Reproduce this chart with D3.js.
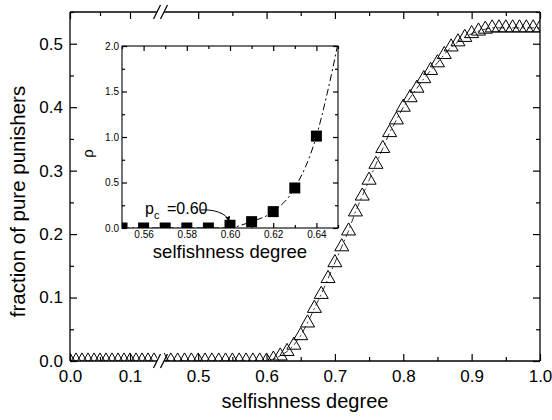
<!DOCTYPE html>
<html lang="en">
<head>
<meta charset="UTF-8">
<title>Fraction of pure punishers</title>
<script src="https://cdnjs.cloudflare.com/ajax/libs/d3/7.8.5/d3.min.js"></script>
<style>
    body { margin: 0; background: #fff; }
    svg { display: block; font-family: Arial, "Liberation Sans", sans-serif; }
    .frame { fill: none; stroke: #000; stroke-width: 1.3px; }
    .axis path { display: none; }
    .axis line { stroke: #000; stroke-width: 1.2px; }
    .axis text { fill: #000; }
    .fit { fill: none; stroke: #000; stroke-width: 1px; stroke-dasharray: 7,3,2,3; }
</style>
</head>
<body>
<svg width="552" height="420"></svg>
<script>
// main chart: fraction of pure punishers vs selfishness degree (axis broken between 0.145 and 0.45)
const selfishLow = [0.00,0.01,0.02,0.03,0.04,0.05,0.06,0.07,0.08,0.09,0.10,0.11,0.12,0.13,0.14];
const punishLow  = [0,0,0,0,0,0,0,0,0,0,0,0,0,0,0];
const selfishHigh = [0.45,0.46,0.47,0.48,0.49,0.50,0.51,0.52,0.53,0.54,0.55,0.56,0.57,0.58,0.59,0.60,
    0.61,0.62,0.63,0.64,0.65,0.66,0.67,0.68,0.69,0.70,0.71,0.72,0.73,0.74,0.75,0.76,0.77,0.78,0.79,0.80,
    0.81,0.82,0.83,0.84,0.85,0.86,0.87,0.88,0.89,0.90,0.91,0.92,0.93,0.94,0.95,0.96,0.97,0.98,0.99,1.00];
const punishHigh = [0,0,0,0,0,0,0,0,0,0,0,0,0,0,0,0,
    0.003,0.008,0.015,0.025,0.04,0.06,0.083,0.105,0.13,0.155,0.18,0.205,0.235,0.26,0.285,0.31,0.335,0.36,0.38,0.40,
    0.415,0.43,0.445,0.458,0.47,0.483,0.495,0.503,0.51,0.516,0.52,0.523,0.525,0.525,0.525,0.525,0.525,0.525,0.525,0.525];

const xTicksLow = [0.0, 0.1];
const xMinorLow = [0.05];
const xTicksHigh = [0.5, 0.6, 0.7, 0.8, 0.9, 1.0];
const xMinorHigh = [0.55, 0.65, 0.75, 0.85, 0.95];
const yTicks = [0.0, 0.1, 0.2, 0.3, 0.4, 0.5];
const yMinor = [0.05, 0.15, 0.25, 0.35, 0.45, 0.55];

// inset: rho vs selfishness degree
const insetX = [0.55,0.56,0.57,0.58,0.59,0.60,0.61,0.62,0.63,0.64];
const insetRho = [0,0,0,0,0,0.03,0.07,0.18,0.44,1.01];
const fitX = [0.55,0.60,0.605,0.61,0.62,0.63,0.64,0.645,0.65];
const fitRho = [0,0,0.03,0.07,0.18,0.44,1.01,1.48,2.03];
const insetXTicks = [0.56,0.58,0.60,0.62,0.64];
const insetXMinor = [0.55,0.57,0.59,0.61,0.63,0.65];
const insetYTicks = [0.0,0.5,1.0,1.5,2.0];
const insetYMinor = [0.25,0.75,1.25,1.75];

const svg = d3.select("svg");

const xLow = d3.scaleLinear().domain([0, 0.145]).range([70, 157]);
const xHigh = d3.scaleLinear().domain([0.45, 1.0]).range([164, 540]);
const y = d3.scaleLinear().domain([0, 0.55]).range([361, 12]);
const fmt1 = d3.format(".1f");

const [yBottom, yTop] = y.range();

// clip regions for each side of the break
const defs = svg.append("defs");
defs.append("clipPath").attr("id", "clipLow").append("rect")
    .attr("x", xLow.range()[0]).attr("y", yTop)
    .attr("width", xLow.range()[1] - xLow.range()[0]).attr("height", yBottom - yTop);
defs.append("clipPath").attr("id", "clipHigh").append("rect")
    .attr("x", xHigh.range()[0]).attr("y", yTop)
    .attr("width", xHigh.range()[1] - xHigh.range()[0]).attr("height", yBottom - yTop);

function drawTicks(scaleX, major, minor, showLabels) {
    const bottom = svg.append("g").attr("class", "axis").attr("transform", `translate(0,${yBottom})`)
        .style("font-size", "17px");
    bottom.call(d3.axisBottom(scaleX).tickValues(major).tickSize(-7).tickPadding(9)
        .tickFormat(showLabels ? fmt1 : ""));
    svg.append("g").attr("class", "axis").attr("transform", `translate(0,${yBottom})`)
        .call(d3.axisBottom(scaleX).tickValues(minor).tickSize(-4).tickFormat(""));
    svg.append("g").attr("class", "axis").attr("transform", `translate(0,${yTop})`)
        .call(d3.axisTop(scaleX).tickValues(major).tickSize(-7).tickFormat(""));
    svg.append("g").attr("class", "axis").attr("transform", `translate(0,${yTop})`)
        .call(d3.axisTop(scaleX).tickValues(minor).tickSize(-4).tickFormat(""));
}
drawTicks(xLow, xTicksLow, xMinorLow, true);
drawTicks(xHigh, xTicksHigh, xMinorHigh, true);

const xLeft = xLow.range()[0], xRight = xHigh.range()[1];
svg.append("g").attr("class", "axis").attr("transform", `translate(${xLeft},0)`)
    .style("font-size", "17px")
    .call(d3.axisLeft(y).tickValues(yTicks).tickSize(-7).tickPadding(7).tickFormat(fmt1));
svg.append("g").attr("class", "axis").attr("transform", `translate(${xLeft},0)`)
    .call(d3.axisLeft(y).tickValues(yMinor).tickSize(-4).tickFormat(""));
svg.append("g").attr("class", "axis").attr("transform", `translate(${xRight},0)`)
    .call(d3.axisRight(y).tickValues(yTicks).tickSize(-7).tickFormat(""));
svg.append("g").attr("class", "axis").attr("transform", `translate(${xRight},0)`)
    .call(d3.axisRight(y).tickValues(yMinor).tickSize(-4).tickFormat(""));

// frame with break
const frame = svg.append("g").attr("class", "frame");
frame.append("line").attr("x1", xLeft).attr("x2", xLeft).attr("y1", yTop).attr("y2", yBottom);
frame.append("line").attr("x1", xRight).attr("x2", xRight).attr("y1", yTop).attr("y2", yBottom);
[yTop, yBottom].forEach(yy => {
    frame.append("line").attr("x1", xLeft).attr("x2", xLow.range()[1]).attr("y1", yy).attr("y2", yy);
    frame.append("line").attr("x1", xHigh.range()[0]).attr("x2", xRight).attr("y1", yy).attr("y2", yy);
    [xLow.range()[1], xHigh.range()[0]].forEach(bx => {
        frame.append("line").attr("x1", bx - 3.5).attr("y1", yy + 7).attr("x2", bx + 3.5).attr("y2", yy - 7);
    });
});

// data: dash-dot guide plus open triangles
const tri = d3.symbol(d3.symbolTriangle, 85);
function drawSeries(xs, ys, scaleX, clip) {
    const pts = xs.map((v, i) => [v, ys[i]]);
    const g = svg.append("g").attr("clip-path", `url(#${clip})`);
    g.append("path").datum(pts).attr("class", "fit").style("stroke-width", "0.8px")
        .attr("d", d3.line().x(d => scaleX(d[0])).y(d => y(d[1])));
    g.selectAll("path.tri").data(pts).enter().append("path")
        .attr("class", "tri")
        .attr("d", tri)
        .attr("transform", d => `translate(${scaleX(d[0])},${y(d[1])})`)
        .style("fill", "none").style("stroke", "#000").style("stroke-width", "1px");
}
drawSeries(selfishLow, punishLow, xLow, "clipLow");
drawSeries(selfishHigh, punishHigh, xHigh, "clipHigh");

// axis titles
svg.append("text").attr("x", (xLeft + xRight) / 2).attr("y", 408)
    .attr("text-anchor", "middle").style("font-size", "20px").text("selfishness degree");
svg.append("text").attr("transform", `translate(25,${(yTop + yBottom) / 2 + 15}) rotate(-90)`)
    .attr("text-anchor", "middle").style("font-size", "20.5px").text("fraction of pure punishers");

// ---- inset ----
const xi = d3.scaleLinear().domain([0.55, 0.65]).range([122, 338]);
const yi = d3.scaleLinear().domain([0, 2]).range([228, 46]);
const [iB, iT] = yi.range();
const [iL, iR] = xi.range();

const inset = svg.append("g");
inset.append("rect").attr("x", iL).attr("y", iT).attr("width", iR - iL).attr("height", iB - iT).style("fill", "#fff");
defs.append("clipPath").attr("id", "clipInset").append("rect")
    .attr("x", iL).attr("y", iT).attr("width", iR - iL).attr("height", iB - iT);

const fmt2 = d3.format(".2f");
inset.append("g").attr("class", "axis").attr("transform", `translate(0,${iB})`).style("font-size", "10px")
    .call(d3.axisBottom(xi).tickValues(insetXTicks).tickSize(-5).tickPadding(3).tickFormat(fmt2));
inset.append("g").attr("class", "axis").attr("transform", `translate(0,${iB})`)
    .call(d3.axisBottom(xi).tickValues(insetXMinor).tickSize(-3).tickFormat(""));
inset.append("g").attr("class", "axis").attr("transform", `translate(0,${iT})`)
    .call(d3.axisTop(xi).tickValues(insetXTicks).tickSize(-5).tickFormat(""));
inset.append("g").attr("class", "axis").attr("transform", `translate(0,${iT})`)
    .call(d3.axisTop(xi).tickValues(insetXMinor).tickSize(-3).tickFormat(""));
inset.append("g").attr("class", "axis").attr("transform", `translate(${iL},0)`).style("font-size", "10px")
    .call(d3.axisLeft(yi).tickValues(insetYTicks).tickSize(-5).tickPadding(3).tickFormat(fmt1));
inset.append("g").attr("class", "axis").attr("transform", `translate(${iL},0)`)
    .call(d3.axisLeft(yi).tickValues(insetYMinor).tickSize(-3).tickFormat(""));
inset.append("g").attr("class", "axis").attr("transform", `translate(${iR},0)`)
    .call(d3.axisRight(yi).tickValues(insetYTicks).tickSize(-5).tickFormat(""));
inset.append("g").attr("class", "axis").attr("transform", `translate(${iR},0)`)
    .call(d3.axisRight(yi).tickValues(insetYMinor).tickSize(-3).tickFormat(""));

const insetData = inset.append("g").attr("clip-path", "url(#clipInset)");
insetData.append("path").datum(fitX.map((v, i) => [v, fitRho[i]])).attr("class", "fit")
    .attr("d", d3.line().x(d => xi(d[0])).y(d => yi(d[1])).curve(d3.curveMonotoneX));
insetData.selectAll("path.sq").data(insetX.map((v, i) => [v, insetRho[i]])).enter().append("path")
    .attr("class", "sq")
    .attr("d", d3.symbol(d3.symbolSquare, 121))
    .attr("transform", d => `translate(${xi(d[0])},${yi(d[1])})`)
    .style("fill", "#000");

inset.append("rect").attr("class", "frame").attr("x", iL).attr("y", iT)
    .attr("width", iR - iL).attr("height", iB - iT).style("stroke-width", "1.1px");

inset.append("text").attr("x", (iL + iR) / 2).attr("y", 257.5)
    .attr("text-anchor", "middle").style("font-size", "18.5px").text("selfishness degree");
inset.append("text").attr("transform", `translate(93,${yi(0.82)}) rotate(-90)`)
    .attr("text-anchor", "middle").style("font-size", "15px").text("ρ");

// p_c annotation with curved arrow
defs.append("marker").attr("id", "arrow").attr("viewBox", "0 0 10 10").attr("refX", 9).attr("refY", 5)
    .attr("markerWidth", 5).attr("markerHeight", 5).attr("orient", "auto")
    .append("path").attr("d", "M0,0 L10,5 L0,10 z").style("fill", "#000");
const pc = inset.append("text").attr("x", 145).attr("y", 214).style("font-size", "16px");
pc.append("tspan").text("p");
pc.append("tspan").attr("dy", 5).style("font-size", "11px").text("c");
pc.append("tspan").attr("x", 167).attr("dy", -5).text("=0.60");
inset.append("path")
    .attr("d", `M${xi(0.5865)},210 C${xi(0.592)},209 ${xi(0.5985)},213 ${xi(0.5995)},221`)
    .style("fill", "none").style("stroke", "#000").style("stroke-width", "1px")
    .attr("marker-end", "url(#arrow)");
</script>
</body>
</html>
